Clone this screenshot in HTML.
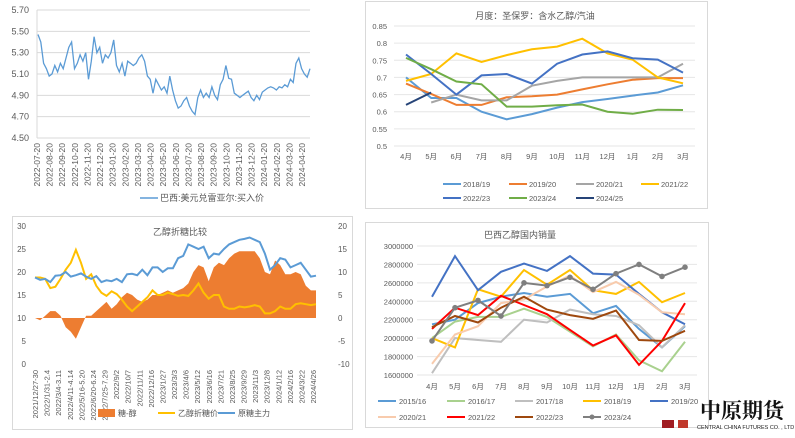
<!DOCTYPE html>
<html><head><meta charset="utf-8">
<style>
html,body{margin:0;padding:0;background:#fff;}
svg{display:block;font-family:"Liberation Sans","Noto Sans CJK SC",sans-serif;}
</style></head>
<body>
<svg id="root" width="795" height="438" viewBox="0 0 795 438">
<rect x="0" y="0" width="795" height="438" fill="#fff"/>
<rect x="365.5" y="1.5" width="342" height="207" fill="none" stroke="#d9d9d9"/>
<rect x="12.5" y="216.5" width="340" height="213" fill="none" stroke="#d9d9d9"/>
<rect x="365.5" y="222.5" width="343" height="205" fill="none" stroke="#d9d9d9"/>
<g id="g1"></g>
<g id="g2"></g>
<g id="g3"></g>
<g id="g4"></g>
<g>
<rect x="662" y="420" width="12" height="8" fill="#a01c22"/>
<rect x="678" y="420" width="10" height="8" fill="#c0392b"/>
<text x="700" y="418" font-size="21" font-weight="bold" fill="#111" font-family="'Noto Serif CJK SC','Noto Sans CJK SC',serif">中原期货</text>
<text x="697" y="429" font-size="5.5" fill="#222">CENTRAL CHINA FUTURES CO. , LTD</text>
</g>
</svg>
<script>
// ---------- Chart 1 data ----------
const fxTicks = [4.50,4.70,4.90,5.10,5.30,5.50,5.70];
const fxDates = ["2022-07-20","2022-08-20","2022-09-20","2022-10-20","2022-11-20","2022-12-20","2023-01-20","2023-02-20","2023-03-20","2023-04-20","2023-05-20","2023-06-20","2023-07-20","2023-08-20","2023-09-20","2023-10-20","2023-11-20","2023-12-20","2024-01-20","2024-02-20","2024-03-20","2024-04-20"];
const fxValues = [5.47,5.40,5.20,5.15,5.08,5.10,5.18,5.12,5.20,5.15,5.25,5.35,5.40,5.15,5.20,5.28,5.22,5.30,5.05,5.22,5.45,5.30,5.35,5.20,5.28,5.25,5.30,5.42,5.18,5.12,5.20,5.08,5.22,5.20,5.18,5.20,5.25,5.28,5.22,5.08,5.05,4.92,5.05,5.00,4.95,4.98,4.92,5.08,4.95,4.85,4.78,4.80,4.85,4.88,4.80,4.75,4.72,4.88,4.95,4.88,4.92,4.88,4.98,4.90,4.86,5.00,5.05,5.18,5.06,5.05,4.92,4.90,4.88,4.90,4.92,4.94,4.88,4.85,4.90,4.86,4.93,4.95,4.97,4.98,4.97,4.95,4.98,4.97,5.00,4.98,5.05,5.02,5.20,5.25,5.15,5.10,5.07,5.15];
// ---------- Chart 2 data ----------
const ratioMonths = ["4月","5月","6月","7月","8月","9月","10月","11月","12月","1月","2月","3月"];
const ratioTicks = [0.5,0.55,0.6,0.65,0.7,0.75,0.8,0.85];
const ratioSeriesNames = ["2018/19","2019/20","2020/21","2021/22","2022/23","2023/24","2024/25"];
const ratioColors = ["#5b9bd5","#ed7d31","#a5a5a5","#ffc000","#4472c4","#70ad47","#264478"];
const ratio1819 = [.70,.64,.64,.60,.578,.593,.612,.628,.637,.647,.656,.677];
const ratio1920 = [.682,.652,.62,.62,.642,.645,.65,.665,.68,.693,.698,.698];
const ratio2021 = [null,.627,.65,.633,.633,.676,.69,.70,.70,.70,.70,.74];
const ratio2122 = [.69,.71,.77,.745,.765,.782,.79,.813,.77,.752,.70,.683];
const ratio2223 = [.767,.71,.65,.706,.71,.682,.74,.767,.776,.756,.752,.714];
const ratio2324 = [.757,.724,.688,.68,.615,.615,.619,.621,.60,.594,.606,.605];
const ratio2425 = [.62,.656];
// ---------- Chart 3 data ----------
const sugarLeftTicks = [0,5,10,15,20,25,30];
const sugarRightTicks = [-10,-5,0,5,10,15,20];
const sugarDates = ["2021/12/27-30","2022/1/31-2.4","2022/3/4-3.11","2022/4/11-4.14","2022/5/16-5.20","2022/6/20-6.24","2022/7/25-7.29","2022/9/2","2022/10/7","2022/11/11","2022/12/16","2023/1/27","2023/3/3","2023/4/6","2023/5/12","2023/6/16","2023/7/21","2023/8/25","2023/9/29","2023/11/3","2023/12/8","2024/1/12","2024/2/16","2024/3/22","2024/4/26"];
const sugarSpread = [0,-0.5,0.5,1.5,1.5,0.5,-2,-3,-4.5,-2,0.5,0.5,1.5,2.5,3.5,2,3,4.5,5.5,5,4,3.5,4,5,5,5.5,6,5.5,6,6.5,7.5,10,11.5,11,8,11,12,11.5,13,14,14.5,14.5,14.5,14.5,13,10,9.5,12.5,11.5,9.5,9.5,10,9.5,7,6,6];
const ethanolSugar = [18.8,18.8,18.5,16.5,16.8,18.5,20.5,22.0,24.8,22.0,18.5,19.5,17.0,15.5,14.8,15.8,15.2,14.0,12.5,11.5,12.5,13.5,14.5,16.0,15.0,15.0,15.5,15.2,14.8,15.0,14.8,16.0,17.5,15.5,14.2,15.0,15.0,12.5,12.0,12.0,12.5,12.3,12.5,12.8,12.5,11.0,11.0,11.5,12.5,12.0,12.0,13.0,13.2,13.0,12.8,13.0];
const rawSugar = [18.8,18.3,18.5,17.8,19.2,19.3,20.0,19.0,19.3,19.7,19.0,18.5,19.1,17.8,18.2,18.0,18.5,17.8,19.5,19.6,19.3,20.5,19.3,21.0,21.0,20.0,20.8,20.8,23.0,23.5,26.0,25.5,25.0,25.5,23.0,24.0,23.8,25.0,26.0,26.5,27.0,27.2,27.5,27.0,26.5,24.0,20.5,21.5,23.0,22.7,21.0,21.5,22.0,20.5,19.0,19.2];
// ---------- Chart 4 data ----------
const salesMonths = ["4月","5月","6月","7月","8月","9月","10月","11月","12月","1月","2月","3月"];
const salesTicks = [1600000,1800000,2000000,2200000,2400000,2600000,2800000,3000000];
const salesNames = ["2015/16","2016/17","2017/18","2018/19","2019/20","2020/21","2021/22","2022/23","2023/24"];
const salesColors = ["#5b9bd5","#a9d18e","#bfbfbf","#ffc000","#4472c4","#f8cbad","#ff0000","#9e480e","#7f7f7f"];
const sales1516 = [2150,2200,2380,2450,2490,2450,2480,2270,2350,2100,1900,2130];
const sales1617 = [2000,2180,2230,2230,2320,2230,2070,1910,2040,1760,1640,1960];
const sales1718 = [1620,2000,1980,1960,2200,2170,2310,2260,2240,2140,1900,2140];
const sales1819 = [2000,1900,2530,2450,2740,2580,2740,2520,2480,2610,2390,2490];
const sales1920 = [2450,2890,2520,2720,2810,2730,2890,2700,2690,2480,2280,2150];
const sales2021 = [1720,2040,2130,2380,2420,2560,2680,2500,2610,2470,2280,2260];
const sales2122 = [2100,2330,2250,2460,2360,2260,2090,1920,2030,1710,1970,2380];
const sales2223 = [2120,2240,2170,2330,2450,2310,2250,2210,2300,1980,1970,2080];
const sales2324 = [1970,2330,2410,2240,2600,2570,2660,2530,2700,2800,2670,2770];

const NS="http://www.w3.org/2000/svg";
function mk(parent,tag,attrs,name,txt){
  const el=document.createElementNS(NS,tag);
  for(const k in attrs) el.setAttribute(k,attrs[k]);
  
  
  if(txt!==undefined) el.textContent=txt;
  parent.appendChild(el);
  return el;
}
function lin(d0,d1,r0,r1){return v=>r0+(v-d0)*(r1-r0)/(d1-d0);}
function pathFrom(xs,ys,vals){let d="";let pen=false;vals.forEach((v,i)=>{if(v===null){pen=false;return;}d+=(pen?"L":"M")+xs(i).toFixed(1)+","+ys(v).toFixed(1);pen=true;});return d;}
const tc="#595959";

// ===== Chart 1 =====
(function(){
  const g=document.getElementById('g1');
  const y=lin(4.5,5.7,138,10);
  const x=lin(0,fxValues.length-1,38,310);
  const xd=lin(0,fxDates.length-1,37,302);
  fxTicks.forEach(t=>{
    mk(g,'line',{x1:37,x2:310,y1:y(t),y2:y(t),stroke:'#d9d9d9','stroke-width':1},'fx-gridline');
    mk(g,'text',{x:29,y:y(t)+3,'font-size':9,'text-anchor':'end',fill:tc},'fx-y-tick',t.toFixed(2));
  });
  mk(g,'line',{x1:37,x2:37,y1:10,y2:138,stroke:'#d9d9d9'},'fx-y-axis');
  fxDates.forEach((d,i)=>{
    mk(g,'text',{transform:`translate(${xd(i)+3},143) rotate(-90)`,'font-size':8.5,'text-anchor':'end',fill:tc},'fx-x-tick',d);
  });
  mk(g,'path',{d:pathFrom(x,y,fxValues),fill:'none',stroke:'#5b9bd5','stroke-width':1.3},'fx-line');
  mk(g,'line',{x1:140,x2:158,y1:198,y2:198,stroke:'#5b9bd5','stroke-width':1.5},'fx-legend-swatch');
  mk(g,'text',{x:160,y:201,'font-size':9,fill:tc},'fx-legend-label','巴西:美元兑雷亚尔:买入价');
})();

// ===== Chart 2 =====
(function(){
  const g=document.getElementById('g2');
  const y=lin(0.5,0.85,146,26);
  const x=lin(0,11,406,683);
  mk(g,'text',{x:535,y:19,'font-size':9,'text-anchor':'middle',fill:tc},'ratio-title','月度：圣保罗：含水乙醇/汽油');
  ratioTicks.forEach(t=>{
    mk(g,'line',{x1:394,x2:695,y1:y(t),y2:y(t),stroke:'#e6e6e6'},'ratio-gridline');
    mk(g,'text',{x:387,y:y(t)+3,'font-size':7.5,'text-anchor':'end',fill:tc},'ratio-y-tick',String(t));
  });
  ratioMonths.forEach((m,i)=>mk(g,'text',{x:x(i),y:159,'font-size':7.5,'text-anchor':'middle',fill:tc},'ratio-x-tick',m));
  const series=[ratio1819,ratio1920,ratio2021,ratio2122,ratio2223,ratio2324,ratio2425];
  series.forEach((s,i)=>mk(g,'path',{d:pathFrom(x,y,s),fill:'none',stroke:ratioColors[i],'stroke-width':2},'ratio-line-'+ratioSeriesNames[i].replace('/','-')));
  const lx=[443,509,576,641,443,509,576], ly=[184,184,184,184,198,198,198];
  ratioSeriesNames.forEach((n,i)=>{
    mk(g,'line',{x1:lx[i],x2:lx[i]+18,y1:ly[i],y2:ly[i],stroke:ratioColors[i],'stroke-width':2},'ratio-legend-swatch');
    mk(g,'text',{x:lx[i]+20,y:ly[i]+3,'font-size':7.5,fill:tc},'ratio-legend-label',n);
  });
})();

// ===== Chart 3 =====
(function(){
  const g=document.getElementById('g3');
  const yl=lin(0,30,364,226);
  const yr=lin(-10,20,364,226);
  const x=lin(0,rawSugar.length-1,35,316);
  const xd=lin(0,sugarDates.length-1,35,313);
  sugarLeftTicks.forEach(t=>mk(g,'text',{x:26,y:yl(t)+3,'font-size':8,'text-anchor':'end',fill:tc},'sugar-left-tick',String(t)));
  sugarRightTicks.forEach(t=>mk(g,'text',{x:338,y:yr(t)+3,'font-size':8,fill:tc},'sugar-right-tick',String(t)));
  let d="M"+x(0)+","+yr(0);
  sugarSpread.forEach((v,i)=>d+="L"+x(i).toFixed(1)+","+yr(v).toFixed(1));
  d+="L"+x(sugarSpread.length-1)+","+yr(0)+"Z";
  mk(g,'path',{d:d,fill:'#ed7d31'},'spread-area');
  mk(g,'path',{d:pathFrom(x,yl,ethanolSugar),fill:'none',stroke:'#ffc000','stroke-width':2},'ethanol-sugar-line');
  mk(g,'path',{d:pathFrom(x,yl,rawSugar),fill:'none',stroke:'#5b9bd5','stroke-width':2},'raw-sugar-line');
  mk(g,'text',{x:180,y:235,'font-size':9,'text-anchor':'middle',fill:tc},'sugar-title','乙醇折糖比较');
  sugarDates.forEach((s,i)=>mk(g,'text',{transform:`translate(${xd(i)+3},370) rotate(-90)`,'font-size':7.5,'text-anchor':'end',fill:tc},'sugar-x-tick',s));
  mk(g,'rect',{x:98,y:409,width:17,height:8,fill:'#ed7d31'},'legend-spread-swatch');
  mk(g,'text',{x:118,y:416,'font-size':8,fill:tc},'legend-spread-label','糖-醇');
  mk(g,'line',{x1:158,x2:175,y1:413,y2:413,stroke:'#ffc000','stroke-width':2},'legend-ethanol-swatch');
  mk(g,'text',{x:178,y:416,'font-size':8,fill:tc},'legend-ethanol-label','乙醇折糖价');
  mk(g,'line',{x1:218,x2:235,y1:413,y2:413,stroke:'#5b9bd5','stroke-width':2},'legend-raw-swatch');
  mk(g,'text',{x:238,y:416,'font-size':8,fill:tc},'legend-raw-label','原糖主力');
})();

// ===== Chart 4 =====
(function(){
  const g=document.getElementById('g4');
  const y=lin(1600000,3000000,375,246);
  const x=lin(0,11,432,685);
  mk(g,'text',{x:520,y:238,'font-size':9,'text-anchor':'middle',fill:tc},'sales-title','巴西乙醇国内销量');
  salesTicks.forEach(t=>{
    mk(g,'line',{x1:417,x2:697,y1:y(t),y2:y(t),stroke:'#e6e6e6'},'sales-gridline');
    mk(g,'text',{x:413,y:y(t)+3,'font-size':7.5,'text-anchor':'end',fill:tc},'sales-y-tick',String(t));
  });
  salesMonths.forEach((m,i)=>mk(g,'text',{x:x(i),y:389,'font-size':7.5,'text-anchor':'middle',fill:tc},'sales-x-tick',m));
  const series=[sales1516,sales1617,sales1718,sales1819,sales1920,sales2021,sales2122,sales2223,sales2324];
  series.forEach((s,i)=>{
    const v=s.map(a=>a*1000);
    mk(g,'path',{d:pathFrom(x,y,v),fill:'none',stroke:salesColors[i],'stroke-width':2},'sales-line-'+salesNames[i].replace('/','-'));
    if(i===8) v.forEach((a,j)=>mk(g,'circle',{cx:x(j),cy:y(a),r:2.8,fill:salesColors[i]},'sales-point-2023-24'));
  });
  const lx=[378,447,515,583,650,378,447,515,583], ly=[401,401,401,401,401,417,417,417,417];
  salesNames.forEach((n,i)=>{
    mk(g,'line',{x1:lx[i],x2:lx[i]+18,y1:ly[i],y2:ly[i],stroke:salesColors[i],'stroke-width':2},'sales-legend-swatch');
    if(i===8) mk(g,'circle',{cx:lx[i]+9,cy:ly[i],r:2.5,fill:salesColors[i]},'sales-legend-marker');
    mk(g,'text',{x:lx[i]+21,y:ly[i]+3,'font-size':7.5,fill:tc},'sales-legend-label',n);
  });
})();
</script>
</body></html>
